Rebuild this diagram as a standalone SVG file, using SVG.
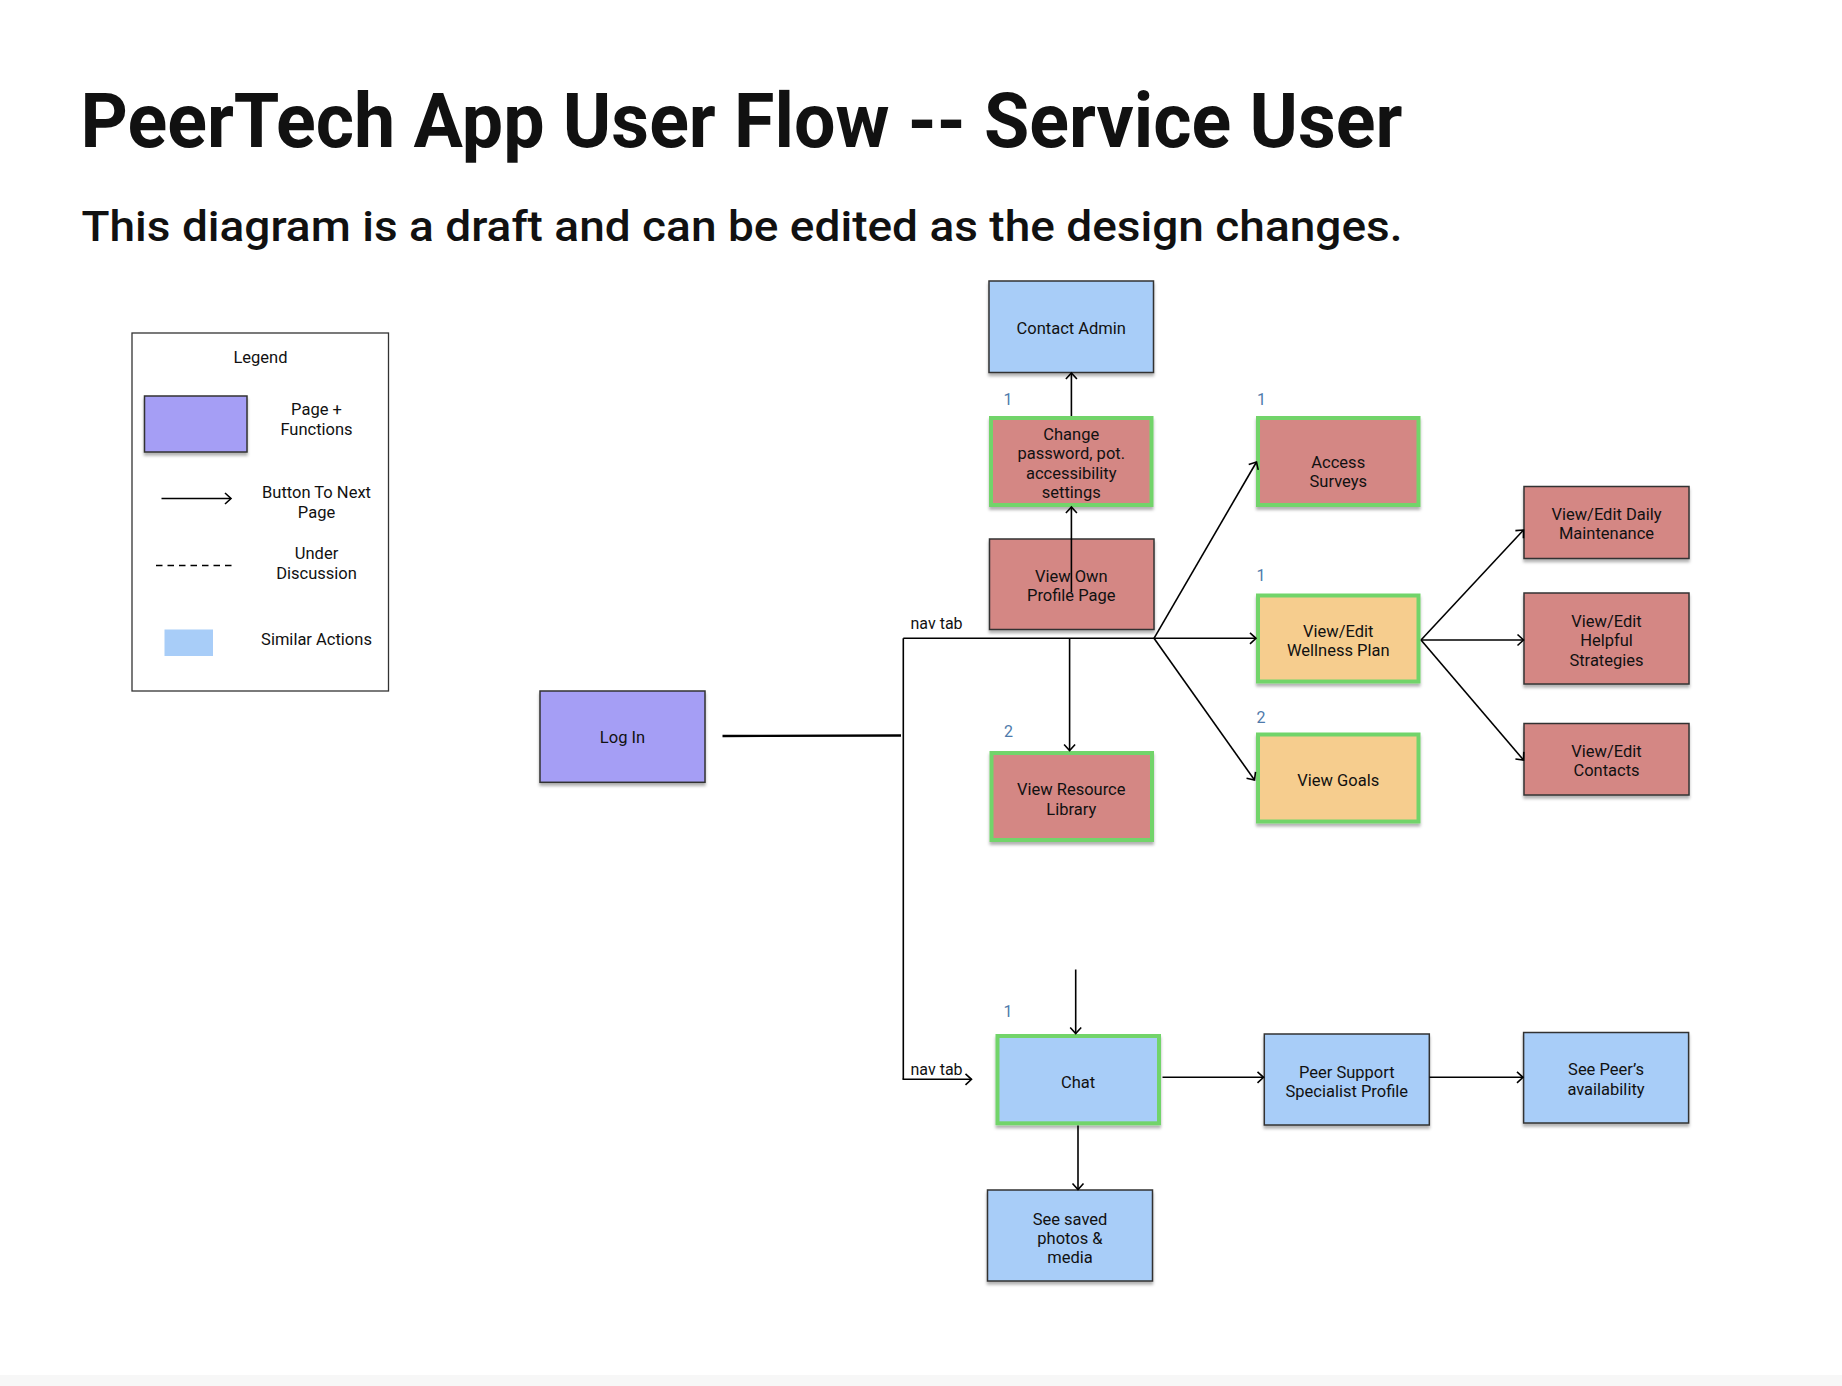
<svg xmlns="http://www.w3.org/2000/svg" width="1842" height="1386" viewBox="0 0 1842 1386">
<style>
text{font-family:Roboto,"Liberation Sans",sans-serif;fill:#111}
.t{font-size:16.5px;text-anchor:middle}
.lg{font-size:16.5px;text-anchor:middle}
.num{font-size:16px;fill:#4e7aab;text-anchor:middle}
.nav{font-size:16px}
.box{stroke:#333;stroke-width:1.5}
.grn{stroke:#72d46b;stroke-width:4}
.red{fill:#d48784}
.org{fill:#f6cd8e}
.blu{fill:#a8cdf8}
.pur{fill:#a59ef5}
.c{fill:none;stroke:#000;stroke-width:1.6}
.ca{fill:none;stroke:#000;stroke-width:1.6;marker-end:url(#ah)}
</style>
<defs>
<filter id="sh" x="-10%" y="-10%" width="120%" height="130%">
<feDropShadow dx="0" dy="3" stdDeviation="1.5" flood-color="#000" flood-opacity="0.3"/>
</filter>
<marker id="ah" markerUnits="userSpaceOnUse" markerWidth="14" markerHeight="14" viewBox="-8 -7 10 14" refX="0" refY="0" orient="auto">
<path d="M-6,-5.5 L0,0 L-6,5.5" fill="none" stroke="#000" stroke-width="1.6"/>
</marker>
</defs>
<rect width="1842" height="1386" fill="#fff"/>
<rect x="0" y="1375" width="1842" height="11" fill="#f7f7f7"/>

<text x="80.5" y="147" font-size="76" font-weight="700" textLength="1322" lengthAdjust="spacingAndGlyphs">PeerTech App User Flow -- Service User</text>
<text x="81.5" y="241" font-size="42" font-weight="500" textLength="1321" lengthAdjust="spacingAndGlyphs">This diagram is a draft and can be edited as the design changes.</text>

<g id="legend">
<rect x="132" y="333" width="256.5" height="358" fill="#fff" stroke="#333" stroke-width="1.3"/>
<text class="lg" x="260.5" y="363">Legend</text>
<rect x="144.5" y="396" width="102.5" height="56" class="pur box" filter="url(#sh)"/>
<text class="lg" x="316.5" y="415">Page +</text>
<text class="lg" x="316.5" y="434.5">Functions</text>
<line x1="161.5" y1="498.5" x2="231" y2="498.5" class="ca"/>
<text class="lg" x="316.5" y="498">Button To Next</text>
<text class="lg" x="316.5" y="517.5">Page</text>
<line x1="156" y1="565.5" x2="236" y2="565.5" stroke="#000" stroke-width="1.5" stroke-dasharray="6.5 5"/>
<text class="lg" x="316.5" y="559">Under</text>
<text class="lg" x="316.5" y="578.5">Discussion</text>
<rect x="164.5" y="629.5" width="48.5" height="26.5" class="blu"/>
<text class="lg" x="316.5" y="645">Similar Actions</text>
</g>

<g id="contact-admin">
<rect x="989" y="281" width="164.5" height="91.5" class="blu box" filter="url(#sh)"/>
<text class="t" x="1071.25" y="334">Contact Admin</text>
</g>
<g id="change-password">
<text class="num" x="1008" y="405">1</text>
<rect x="991" y="418" width="160.5" height="87" class="red grn" filter="url(#sh)"/>
<text class="t" x="1071.25" y="440">Change</text>
<text class="t" x="1071.25" y="459.3">password, pot.</text>
<text class="t" x="1071.25" y="478.6">accessibility</text>
<text class="t" x="1071.25" y="497.9">settings</text>
</g>
<g id="view-own-profile">
<rect x="989.5" y="539" width="164.5" height="90.5" class="red box" filter="url(#sh)"/>
<text class="t" x="1071.25" y="581.7">View Own</text>
<text class="t" x="1071.25" y="601">Profile Page</text>
</g>
<g id="access-surveys">
<text class="num" x="1261.5" y="405">1</text>
<rect x="1258" y="418" width="160.5" height="87" class="red grn" filter="url(#sh)"/>
<text class="t" x="1338.25" y="467.5">Access</text>
<text class="t" x="1338.25" y="487">Surveys</text>
</g>
<g id="wellness-plan">
<text class="num" x="1261" y="581">1</text>
<rect x="1258" y="595.5" width="160.5" height="86" class="org grn" filter="url(#sh)"/>
<text class="t" x="1338.25" y="636.7">View/Edit</text>
<text class="t" x="1338.25" y="656">Wellness Plan</text>
</g>
<g id="view-goals">
<text class="num" x="1261" y="723">2</text>
<rect x="1258" y="734.5" width="160.5" height="87" class="org grn" filter="url(#sh)"/>
<text class="t" x="1338.25" y="786">View Goals</text>
</g>
<g id="resource-library">
<text class="num" x="1008.5" y="736.5">2</text>
<rect x="991.5" y="753" width="160.5" height="87" class="red grn" filter="url(#sh)"/>
<text class="t" x="1071.25" y="795">View Resource</text>
<text class="t" x="1071.25" y="814.5">Library</text>
</g>
<g id="daily-maintenance">
<rect x="1524" y="486.5" width="165" height="72" class="red box" filter="url(#sh)"/>
<text class="t" x="1606.5" y="520">View/Edit Daily</text>
<text class="t" x="1606.5" y="539.3">Maintenance</text>
</g>
<g id="helpful-strategies">
<rect x="1524" y="593" width="165" height="91" class="red box" filter="url(#sh)"/>
<text class="t" x="1606.5" y="626.7">View/Edit</text>
<text class="t" x="1606.5" y="646">Helpful</text>
<text class="t" x="1606.5" y="665.5">Strategies</text>
</g>
<g id="contacts">
<rect x="1524" y="723.5" width="165" height="71.5" class="red box" filter="url(#sh)"/>
<text class="t" x="1606.5" y="756.7">View/Edit</text>
<text class="t" x="1606.5" y="776">Contacts</text>
</g>
<g id="log-in">
<rect x="540" y="691" width="165" height="91.3" class="pur box" filter="url(#sh)"/>
<text class="t" x="622.5" y="742.7">Log In</text>
</g>
<g id="chat">
<text class="num" x="1008" y="1017">1</text>
<rect x="997.5" y="1036" width="161.5" height="87.3" class="blu grn" filter="url(#sh)"/>
<text class="t" x="1078" y="1088.3">Chat</text>
</g>
<g id="peer-support-profile">
<rect x="1264.3" y="1034" width="165" height="91" class="blu box" filter="url(#sh)"/>
<text class="t" x="1346.8" y="1078">Peer Support</text>
<text class="t" x="1346.8" y="1097">Specialist Profile</text>
</g>
<g id="peer-availability">
<rect x="1523.6" y="1032.5" width="165" height="90.5" class="blu box" filter="url(#sh)"/>
<text class="t" x="1606" y="1075">See Peer’s</text>
<text class="t" x="1606" y="1094.5">availability</text>
</g>
<g id="saved-media">
<rect x="987.5" y="1190" width="165" height="91" class="blu box" filter="url(#sh)"/>
<text class="t" x="1070" y="1225">See saved</text>
<text class="t" x="1070" y="1244">photos &amp;</text>
<text class="t" x="1070" y="1263">media</text>
</g>

<g id="connectors">
<line x1="722.5" y1="736" x2="901" y2="735.5" stroke="#000" stroke-width="2.4"/>
<polyline points="903.3,638.3 903.3,1079.3" class="c"/>
<line x1="903.3" y1="638.3" x2="1256" y2="638.3" class="ca" stroke-width="2"/>
<line x1="902.5" y1="1079.3" x2="971.5" y2="1079.3" class="ca"/>
<line x1="1154" y1="638.3" x2="1256.5" y2="462" class="ca"/>
<line x1="1154" y1="638.3" x2="1254.5" y2="780" class="ca"/>
<line x1="1069.6" y1="638.3" x2="1069.6" y2="750.5" class="ca"/>
<line x1="1071.4" y1="592" x2="1071.4" y2="507" class="ca"/>
<line x1="1071.4" y1="416" x2="1071.4" y2="373" class="ca"/>
<line x1="1421" y1="640" x2="1523.5" y2="530" class="ca"/>
<line x1="1421" y1="640" x2="1523.5" y2="640" class="ca"/>
<line x1="1421" y1="640" x2="1523.5" y2="760" class="ca"/>
<line x1="1075.7" y1="969.5" x2="1075.7" y2="1033.5" class="ca"/>
<line x1="1162.5" y1="1077.3" x2="1263.5" y2="1077.3" class="ca" stroke-width="2"/>
<line x1="1429.5" y1="1077.3" x2="1523" y2="1077.3" class="ca" stroke-width="2"/>
<line x1="1078" y1="1125.5" x2="1078" y2="1189.5" class="ca"/>
<text class="nav" x="910.5" y="629.3">nav tab</text>
<text class="nav" x="910.5" y="1075">nav tab</text>
</g>
</svg>
